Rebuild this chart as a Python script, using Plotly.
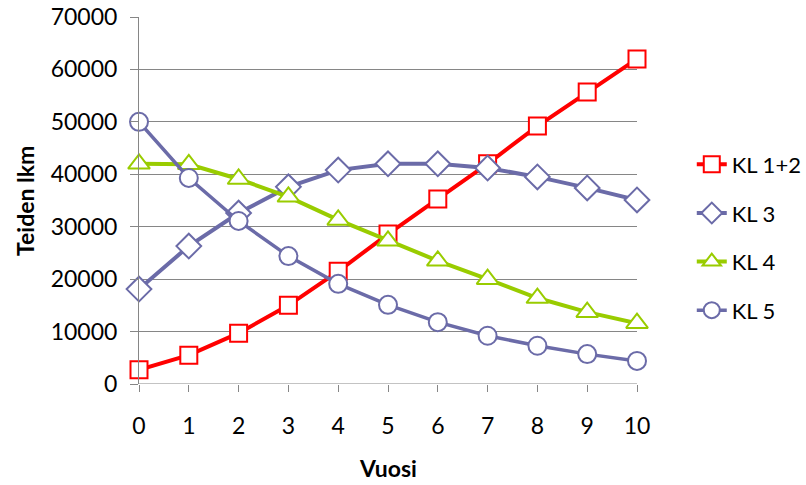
import plotly.graph_objects as go

years = [0, 1, 2, 3, 4, 5, 6, 7, 8, 9, 10]
kl12 = [2700, 5500, 9700, 15000, 21500, 28600, 35300, 42000, 49200, 55700, 62000]
kl3 = [18100, 26300, 32600, 37600, 40800, 42000, 42000, 41200, 39500, 37400, 35100]
kl4 = [42000, 41900, 39100, 35700, 31300, 27300, 23500, 20000, 16400, 13700, 11600]
kl5 = [50000, 39300, 31100, 24400, 19100, 15100, 11800, 9200, 7300, 5700, 4400]
names = ["KL 1+2", "KL 3", "KL 4", "KL 5"]
yticks = [0, 10000, 20000, 30000, 40000, 50000, 60000, 70000]

PURPLE = "#6B6BA8"
styles = [
    ("#FF0000", "square", 4, 17),
    (PURPLE, "diamond", 4, 19),
    ("#99CC00", "triangle-up", 4, 19),
    (PURPLE, "circle", 3.5, 18),
]

fig = go.Figure()
for i, (name, vals) in enumerate(zip(names, [kl12, kl3, kl4, kl5])):
    color, sym, lw, ms = styles[i]
    fig.add_trace(go.Scatter(
        x=years, y=vals, name=name, mode="lines+markers",
        legendgroup=name,
        line=dict(color=color, width=lw),
        marker=dict(symbol=sym, size=ms, color="white",
                    line=dict(color=color, width=2)),
        cliponaxis=False,
    ))

font = "Lato, Open Sans, sans-serif"
fig.update_layout(
    width=806, height=485,
    margin=dict(l=139, r=169, t=17, b=101, autoexpand=False),
    paper_bgcolor="white", plot_bgcolor="white",
    font=dict(family=font, size=23, color="#000000"),
    showlegend=True,
    legend=dict(x=1.11, xanchor="left", xref="paper", y=0.399, yanchor="middle",
                font=dict(size=22, family=font), tracegroupgap=17,
                bgcolor="rgba(0,0,0,0)"),
    xaxis=dict(range=[0, 10], tickvals=years, ticktext=[str(v) for v in years],
               showgrid=False, zeroline=False, showline=False, automargin=False,
               ticks="outside", ticklen=7, tickcolor="#868686",
               ticklabelstandoff=14, tickfont=dict(size=23, family=font)),
    yaxis=dict(range=[0, 70000], tickvals=yticks, ticktext=[str(v) for v in yticks],
               showgrid=True, gridcolor="#868686", gridwidth=1, automargin=False,
               zeroline=False, showline=True, linecolor="#868686", linewidth=1,
               ticks="outside", ticklen=8, tickcolor="#868686",
               ticklabelstandoff=8, tickfont=dict(size=23, family=font)),
    annotations=[
        dict(text="<b>Vuosi</b>", xref="paper", yref="paper", x=0.5, y=-0.23,
             xanchor="center", yanchor="middle", showarrow=False,
             font=dict(size=23, family=font)),
        dict(text="<b>Teiden lkm</b>", xref="paper", yref="paper", x=-0.23, y=0.5,
             xanchor="center", yanchor="middle", showarrow=False, textangle=-90,
             font=dict(size=23, family=font)),
    ],
)
fig.add_shape(type="line", xref="paper", yref="y", x0=0, x1=1, y0=0, y1=0,
              line=dict(color="#868686", width=1), layer="below")

fig.write_html("out.html")
